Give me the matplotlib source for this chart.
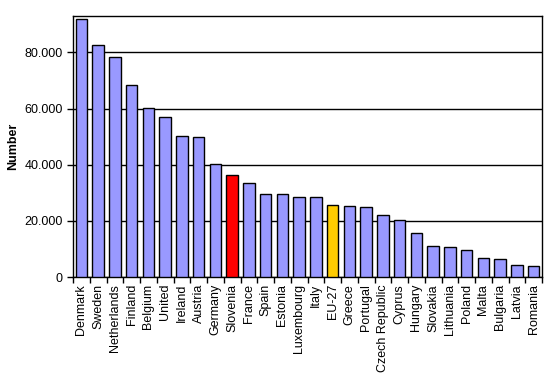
import numpy as np
import matplotlib.pyplot as plt
from matplotlib.ticker import FuncFormatter

countries = ['Denmark', 'Sweden', 'Netherlands', 'Finland', 'Belgium', 'United',
             'Ireland', 'Austria', 'Germany', 'Slovenia', 'France', 'Spain',
             'Estonia', 'Luxembourg', 'Italy', 'EU-27', 'Greece', 'Portugal',
             'Czech Republic', 'Cyprus', 'Hungary', 'Slovakia', 'Lithuania',
             'Poland', 'Malta', 'Bulgaria', 'Latvia', 'Romania']
values = [91900, 82600, 78300, 68300, 60100, 56900, 50200, 49800, 40200, 36250,
          33400, 29500, 29500, 28400, 28400, 25550, 25200, 24850, 22000, 20200,
          15600, 10900, 10600, 9500, 6650, 6300, 4150, 3800]
highlight = {'Slovenia': '#FF0000', 'EU-27': '#FFCC00'}

plt.rcParams['font.family'] = ['Liberation Sans', 'DejaVu Sans']

fig = plt.figure(figsize=(5.47, 3.9), dpi=100)
ax = fig.add_axes([73/547, 113/390, 469/547, 261/390])

x = np.arange(len(countries))
colors = [highlight.get(c, '#9999FF') for c in countries]
ax.bar(x, values, width=0.7, color=colors, edgecolor='black', linewidth=1, zorder=3)

ax.set_xlim(-0.5, len(countries) - 0.5)
ax.set_ylim(0, 93000)
ax.set_yticks([0, 20000, 40000, 60000, 80000])
ax.yaxis.set_major_formatter(FuncFormatter(lambda v, p: '0' if v == 0 else f'{int(v):,}'.replace(',', '.')))
ax.yaxis.grid(True, color='black', linewidth=1, zorder=0)

ax.set_xticks(x)
ax.set_xticklabels(countries, rotation=90, fontsize=9)
ax.set_xticks(np.arange(-0.5, len(countries)), minor=True)
ax.tick_params(axis='x', which='major', length=0, pad=5)
ax.tick_params(axis='x', which='minor', length=4, direction='out', width=1)
ax.tick_params(axis='y', length=4, direction='out', width=1, labelsize=9)

for s in ax.spines.values():
    s.set_linewidth(1)
    s.set_color('black')

ax.set_ylabel('Number', fontweight='bold', fontsize=9, labelpad=4)

fig.savefig('out.png', dpi=100)
